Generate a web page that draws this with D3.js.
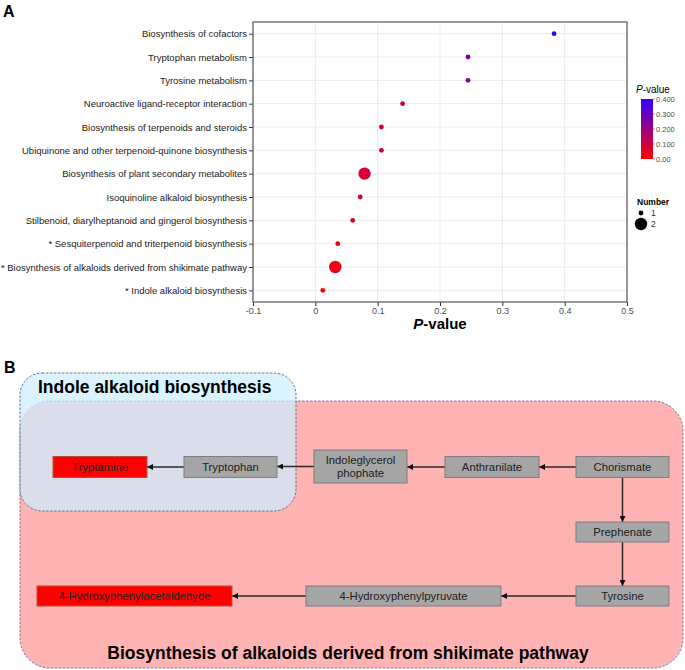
<!DOCTYPE html>
<html>
<head>
<meta charset="utf-8">
<script src="https://cdn.jsdelivr.net/npm/d3@7"></script>
<style>
  html, body { margin: 0; padding: 0; background: #fff; }
  svg { display: block; font-family: "Liberation Sans", Arial, sans-serif; }
</style>
</head>
<body>
<svg id="chart" width="685" height="670"></svg>
<script>
// ---------------- Data (panel A) ----------------
const categories = [
  "Biosynthesis of cofactors",
  "Tryptophan metabolism",
  "Tyrosine metabolism",
  "Neuroactive ligand-receptor interaction",
  "Biosynthesis of terpenoids and steroids",
  "Ubiquinone and other terpenoid-quinone biosynthesis",
  "Biosynthesis of plant secondary metabolites",
  "Isoquinoline alkaloid biosynthesis",
  "Stilbenoid, diarylheptanoid and gingerol biosynthesis",
  "* Sesquiterpenoid and triterpenoid biosynthesis",
  "* Biosynthesis of alkaloids derived from shikimate pathway",
  "* Indole alkaloid biosynthesis"
];
const pValues = [0.383, 0.245, 0.245, 0.140, 0.106, 0.106, 0.079, 0.072, 0.060, 0.036, 0.032, 0.012];
const numbers = [1, 1, 1, 1, 1, 1, 2, 1, 1, 1, 2, 1];
const xTicks = [-0.1, 0, 0.1, 0.2, 0.3, 0.4, 0.5];
const colorTicks = [0, 0.1, 0.2, 0.3, 0.4];
const colorTickLabels = ["0.00", "0.100", "0.200", "0.300", "0.400"];
const sizeLegend = [1, 2];

// ---------------- Data (panel B) ----------------
const nodeNames = ["Tryptamine", "Tryptophan", "Indoleglycerol\nphophate", "Anthranilate", "Chorismate",
                   "Prephenate", "Tyrosine", "4-Hydroxyphenylpyruvate", "4-Hydroxyphenylacetaldehyde"];
const nodeHighlighted = [true, false, false, false, false, false, false, false, true];
const edges = [
  ["Tryptophan", "Tryptamine"],
  ["Indoleglycerol\nphophate", "Tryptophan"],
  ["Anthranilate", "Indoleglycerol\nphophate"],
  ["Chorismate", "Anthranilate"],
  ["Chorismate", "Prephenate"],
  ["Prephenate", "Tyrosine"],
  ["Tyrosine", "4-Hydroxyphenylpyruvate"],
  ["4-Hydroxyphenylpyruvate", "4-Hydroxyphenylacetaldehyde"]
];
const groupTitles = ["Indole alkaloid biosynthesis", "Biosynthesis of alkaloids derived from shikimate pathway"];

// ---------------- Panel A ----------------
const svg = d3.select("#chart");
const m = {left: 253, right: 627, top: 22, bottom: 302};

svg.append("text").attr("x", 3).attr("y", 17).attr("font-size", 16).attr("font-weight", "bold").text("A");

const x = d3.scaleLinear().domain([-0.1, 0.5]).range([m.left, m.right]);
const y = d3.scalePoint().domain(categories).range([m.top, m.bottom]).padding(0.5);
const color = d3.scaleLinear().domain([0, 0.4]).range(["#ff0000", "#3300ff"]).interpolate(d3.interpolateRgb);
const size = d3.scaleLinear().domain([1, 2]).range([2.4, 6.2]);

const gA = svg.append("g");
gA.append("rect").attr("x", m.left).attr("y", m.top).attr("width", m.right - m.left).attr("height", m.bottom - m.top)
  .attr("fill", "#fff");

// gridlines
gA.append("g").selectAll("line.v").data(xTicks).join("line")
  .attr("x1", d => x(d)).attr("x2", d => x(d)).attr("y1", m.top).attr("y2", m.bottom)
  .attr("stroke", "#ebebeb").attr("stroke-width", 1);
gA.append("g").selectAll("line.h").data(categories).join("line")
  .attr("x1", m.left).attr("x2", m.right).attr("y1", d => y(d)).attr("y2", d => y(d))
  .attr("stroke", "#ebebeb").attr("stroke-width", 1);

// axes
const xAxis = d3.axisBottom(x).tickValues(xTicks).tickSize(4).tickPadding(1.5).tickFormat(d => String(d));
const gx = gA.append("g").attr("transform", `translate(0,${m.bottom})`).call(xAxis);
gx.select(".domain").remove();
gx.selectAll("line").attr("stroke", "#333");
gx.selectAll("text").attr("font-size", 9).attr("fill", "#4d4d4d").attr("font-family", "Liberation Sans, Arial, sans-serif");

const yAxis = d3.axisLeft(y).tickSize(4).tickPadding(2);
const gy = gA.append("g").attr("transform", `translate(${m.left},0)`).call(yAxis);
gy.select(".domain").remove();
gy.selectAll("line").attr("stroke", "#333");
gy.selectAll("text").attr("font-size", 9.5).attr("fill", "#1a1a1a").attr("font-family", "Liberation Sans, Arial, sans-serif");

// border
gA.append("rect").attr("x", m.left).attr("y", m.top).attr("width", m.right - m.left).attr("height", m.bottom - m.top)
  .attr("fill", "none").attr("stroke", "#555").attr("stroke-width", 1.2);

// points
gA.append("g").selectAll("circle").data(categories).join("circle")
  .attr("cx", (d, i) => x(pValues[i])).attr("cy", d => y(d))
  .attr("r", (d, i) => size(numbers[i]))
  .attr("fill", (d, i) => color(pValues[i]));

// x title
const xt = gA.append("text").attr("x", (m.left + m.right) / 2).attr("y", 329).attr("text-anchor", "middle")
  .attr("font-size", 15).attr("font-weight", "bold").attr("fill", "#000");
xt.append("tspan").attr("font-style", "italic").text("P");
xt.append("tspan").text("-value");

// colour legend
const lg = svg.append("g");
const lt = lg.append("text").attr("x", 636).attr("y", 93).attr("font-size", 10).attr("fill", "#000");
lt.append("tspan").attr("font-style", "italic").text("P");
lt.append("tspan").text("-value");
const cy = d3.scaleLinear().domain([0, 0.4]).range([159, 99]);
const defs = svg.append("defs");
const grad = defs.append("linearGradient").attr("id", "pgrad").attr("x1", 0).attr("y1", 1).attr("x2", 0).attr("y2", 0);
d3.range(0, 1.0001, 0.1).forEach(t => grad.append("stop").attr("offset", t).attr("stop-color", color(t * 0.4)));
lg.append("rect").attr("x", 641).attr("y", cy(0.4)).attr("width", 12).attr("height", cy(0) - cy(0.4)).attr("fill", "url(#pgrad)");
lg.selectAll("line.ct").data(colorTicks).join("line")
  .attr("x1", 653).attr("x2", 655).attr("y1", d => cy(d)).attr("y2", d => cy(d)).attr("stroke", "#999");
lg.selectAll("text.ct").data(colorTicks).join("text")
  .attr("x", 656).attr("y", d => cy(d) + 2.6).attr("font-size", 7.5).attr("fill", "#4d4d4d")
  .text((d, i) => colorTickLabels[i]);

// size legend
lg.append("text").attr("x", 637).attr("y", 205).attr("font-size", 8.5).attr("font-weight", "bold").text("Number");
const sy = d3.scalePoint().domain(sizeLegend).range([213, 224]);
lg.selectAll("circle.sz").data(sizeLegend).join("circle")
  .attr("cx", 641).attr("cy", d => sy(d)).attr("r", d => size(d)).attr("fill", "#000");
lg.selectAll("text.sz").data(sizeLegend).join("text")
  .attr("x", 651).attr("y", d => sy(d) + 3).attr("font-size", 8.5).attr("fill", "#333").text(d => d);

// ---------------- Panel B ----------------
svg.append("text").attr("x", 4).attr("y", 373).attr("font-size", 16).attr("font-weight", "bold").text("B");

const gB = svg.append("g");
// group frames (layout)
gB.append("rect").attr("x", 20).attr("y", 401).attr("width", 663).attr("height", 267).attr("rx", 30).attr("ry", 30)
  .attr("fill", "#ffb3b3").attr("stroke", "#7a7f99").attr("stroke-width", 1).attr("stroke-dasharray", "2.5,1.5");
gB.append("rect").attr("x", 20).attr("y", 373).attr("width", 276).attr("height", 138).attr("rx", 22).attr("ry", 22)
  .attr("fill", "rgb(204,238,255)").attr("fill-opacity", 0.72)
  .attr("stroke", "#6d7088").attr("stroke-width", 1).attr("stroke-dasharray", "2.5,1.5");
gB.append("text").attr("x", 38).attr("y", 393).attr("font-size", 17.5).attr("font-weight", "bold").text(groupTitles[0]);
gB.append("text").attr("x", 348).attr("y", 659).attr("text-anchor", "middle").attr("font-size", 17.5)
  .attr("font-weight", "bold").text(groupTitles[1]);

// node layout (positions)
const layout = {
  "Tryptamine": {cx: 100, cy: 467, w: 94, h: 21},
  "Tryptophan": {cx: 230.5, cy: 467, w: 93, h: 21},
  "Indoleglycerol\nphophate": {cx: 360.5, cy: 466.5, w: 93, h: 33},
  "Anthranilate": {cx: 492, cy: 467, w: 94, h: 21},
  "Chorismate": {cx: 622.5, cy: 467, w: 93, h: 21},
  "Prephenate": {cx: 622.5, cy: 532, w: 93, h: 20},
  "Tyrosine": {cx: 622.5, cy: 596, w: 93, h: 20},
  "4-Hydroxyphenylpyruvate": {cx: 403.5, cy: 596, w: 195, h: 20},
  "4-Hydroxyphenylacetaldehyde": {cx: 134.5, cy: 596, w: 195, h: 20}
};

defs.append("marker").attr("id", "arr").attr("viewBox", "0 0 10 10").attr("refX", 10).attr("refY", 5)
  .attr("markerWidth", 6).attr("markerHeight", 6).attr("markerUnits", "userSpaceOnUse").attr("orient", "auto")
  .append("path").attr("d", "M0,0L10,5L0,10z").attr("fill", "#111");

// edges
gB.append("g").selectAll("line").data(edges).join("line")
  .each(function([s, t]) {
    const a = layout[s], b = layout[t];
    let x1, y1, x2, y2;
    if (Math.abs(a.cy - b.cy) < 1) {
      const dir = b.cx < a.cx ? -1 : 1;
      x1 = a.cx + dir * a.w / 2; x2 = b.cx - dir * b.w / 2; y1 = y2 = a.cy;
    } else {
      const dir = b.cy > a.cy ? 1 : -1;
      y1 = a.cy + dir * a.h / 2; y2 = b.cy - dir * b.h / 2; x1 = x2 = a.cx;
    }
    d3.select(this).attr("x1", x1).attr("y1", y1).attr("x2", x2).attr("y2", y2);
  })
  .attr("stroke", "#2a2a2a").attr("stroke-width", 1.5).attr("marker-end", "url(#arr)");

// nodes
const ng = gB.append("g").selectAll("g").data(nodeNames).join("g");
ng.append("rect")
  .attr("x", d => layout[d].cx - layout[d].w / 2).attr("y", d => layout[d].cy - layout[d].h / 2)
  .attr("width", d => layout[d].w).attr("height", d => layout[d].h)
  .attr("fill", (d, i) => nodeHighlighted[i] ? "#ff0000" : "#a5a5a5")
  .attr("stroke", (d, i) => nodeHighlighted[i] ? "#b5503a" : "#7f7f7f").attr("stroke-width", 1);
ng.each(function(d) {
  const lines = d.split("\n");
  const t = d3.select(this).append("text").attr("text-anchor", "middle").attr("font-size", 11.3)
    .attr("fill", "#222");
  lines.forEach((ln, k) => {
    t.append("tspan").attr("x", layout[d].cx)
      .attr("y", layout[d].cy + 4 + (k - (lines.length - 1) / 2) * 12.5).text(ln);
  });
});
</script>
</body>
</html>
